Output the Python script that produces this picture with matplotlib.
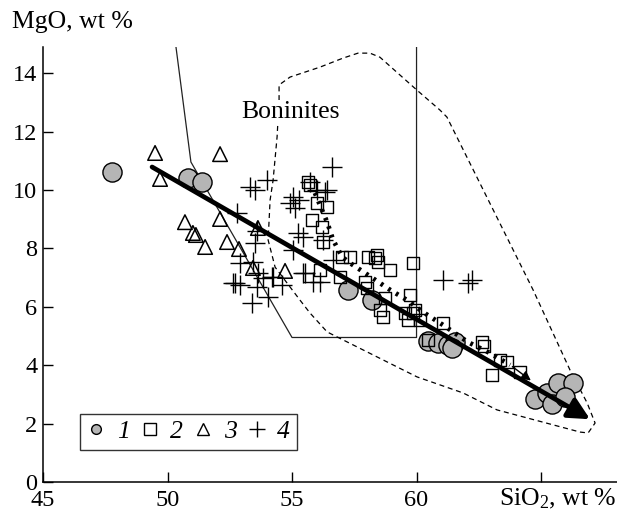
import numpy as np
import matplotlib
matplotlib.use("Agg")
import matplotlib.pyplot as plt
from matplotlib.lines import Line2D

plt.rcParams['font.family'] = ['Liberation Serif', 'DejaVu Serif']
plt.rcParams['mathtext.fontset'] = 'custom'
plt.rcParams['mathtext.rm'] = 'Liberation Serif'
plt.rcParams['mathtext.it'] = 'Liberation Serif:italic'

# --- data (SiO2, MgO) ---
# 1: circles
sio2_1 = [47.77, 50.82, 51.39, 57.25, 58.21, 60.46, 60.86, 61.27, 61.55, 61.43,
          64.76, 65.24, 65.68, 66.29, 65.44, 65.96]
mgo_1 = [10.62, 10.41, 10.27, 6.58, 6.23, 4.82, 4.76, 4.69, 4.79, 4.59,
         2.85, 3.05, 3.39, 3.39, 2.66, 2.91]

# 2: squares
sio2_2 = [55.64, 55.72, 56.00, 56.41, 55.80, 56.20, 57.01, 57.33, 58.05, 58.41,
          56.24, 58.33, 58.45, 58.94, 59.86, 56.12, 56.93, 57.93, 58.01, 58.73,
          58.53, 58.65, 59.74, 59.54, 59.66, 59.94, 60.14, 59.86, 61.06, 62.63,
          63.35, 63.63, 60.46, 63.03, 64.16, 62.70]
mgo_2 = [10.27, 10.17, 9.55, 9.42, 8.97, 8.73, 7.71, 7.71, 7.71, 7.77,
         8.22, 7.67, 7.53, 7.26, 7.50, 7.26, 7.02, 6.85, 6.64, 6.30,
         5.89, 5.65, 6.40, 5.79, 5.55, 5.89, 5.55, 5.79, 5.45, 4.79,
         4.18, 4.11, 4.86, 3.66, 3.77, 4.65]

# 3: triangles
sio2_3 = [49.50, 52.11, 49.70, 50.70, 51.02, 51.14, 51.51, 52.11, 52.39, 52.87,
          53.63, 53.43, 54.72]
mgo_3 = [11.27, 11.23, 10.38, 8.90, 8.53, 8.46, 8.05, 9.01, 8.22, 7.98,
         8.70, 7.33, 7.23]

# 4: crosses
sio2_4 = [54.00, 53.31, 53.51, 52.79, 53.59, 53.51, 52.91, 53.43, 53.63, 54.20,
          52.71, 52.91, 53.59, 54.04, 53.39, 54.60, 52.63, 53.84, 54.24, 55.44,
          55.84, 56.61, 55.72, 56.33, 55.04, 54.92, 55.12, 55.24, 55.44, 55.04,
          56.24, 56.00, 55.52, 56.12, 56.65, 61.06, 62.07, 62.23, 56.41, 55.30]
mgo_4 = [10.34, 10.10, 10.00, 9.21, 8.60, 8.18, 7.50, 7.53, 7.16, 7.02,
         6.82, 6.75, 6.68, 6.34, 6.13, 6.75, 6.82, 6.99, 7.02, 7.16,
         6.85, 10.79, 10.27, 9.93, 9.76, 9.55, 9.38, 8.53, 8.39, 7.95,
         8.29, 10.00, 7.16, 6.85, 7.60, 6.92, 6.82, 6.92, 10.00, 9.65]

# solid field boundary
solid_x = [50.34, 50.94, 55.00, 60.00, 60.00]
solid_y = [14.90, 10.96, 4.95, 4.95, 14.90]

# Boninites field (dashed)
bon_x = [54.48, 54.48, 54.92, 56.12, 57.05, 57.65, 58.13, 58.53, 60.02, 60.94,
         61.22, 63.88, 64.68, 65.48, 66.16, 66.85, 67.17, 66.89, 66.57, 63.23,
         61.87, 60.02, 56.41, 55.72, 55.32, 54.92, 54.32, 54.04, 54.12, 54.24,
         54.40, 54.48]
bon_y = [13.08, 13.60, 13.87, 14.21, 14.52, 14.69, 14.69, 14.55, 13.42, 12.74,
         12.50, 7.95, 6.58, 5.10, 3.84, 2.71, 2.02, 1.68, 1.71, 2.47,
         3.05, 3.60, 5.14, 5.79, 6.23, 6.68, 7.36, 8.29, 9.66, 10.34,
         11.82, 13.08]

# dotted trend
dot_x = [55.92, 56.12, 56.41, 56.65, 57.01, 57.33, 58.05, 58.94, 59.62, 60.26,
         61.06, 62.07, 62.87, 63.76]
dot_y = [9.90, 9.49, 8.90, 8.29, 7.71, 7.50, 7.09, 6.58, 6.23, 5.82,
         5.38, 4.79, 4.45, 4.01]
dot_end = (64.68, 3.42)

# main trend arrow
arrow_start = (49.38, 10.79)
arrow_end = (66.97, 2.15)

fig = plt.figure(figsize=(6.17, 5.12), dpi=100)
ax = fig.add_axes([43 / 617, 30 / 512, 574 / 617, 435 / 512])
ax.set_xlim(45, 68.05)
ax.set_ylim(0, 14.9)

ax.plot(solid_x, solid_y, color='#222222', lw=0.9, zorder=2)
ax.plot(bon_x, bon_y, color='black', lw=0.9, ls=(0, (4, 3)), zorder=2)

ax.scatter(sio2_1, mgo_1, s=190, marker='o', facecolor='#b5b5b5',
           edgecolor='black', linewidths=1.0, zorder=3)
ax.scatter(sio2_2, mgo_2, s=80, marker='s', facecolor='none',
           edgecolor='black', linewidths=1.0, zorder=4)
ax.scatter(sio2_3, mgo_3, s=110, marker='^', facecolor='none',
           edgecolor='black', linewidths=1.1, zorder=4)
ax.scatter(sio2_4, mgo_4, s=190, marker='+', color='black',
           linewidths=1.0, zorder=4)

ax.plot(dot_x, dot_y, color='black', lw=3.4, ls=(0, (0.6, 1.3)), zorder=5)
ax.annotate('', xy=dot_end, xytext=(dot_x[-1], dot_y[-1]),
            arrowprops=dict(arrowstyle='-|>', lw=1.0, color='black',
                            mutation_scale=14), zorder=5)
ax.annotate('', xy=arrow_end, xytext=arrow_start,
            arrowprops=dict(arrowstyle='-|>', lw=3.4, color='black',
                            mutation_scale=32, shrinkA=0, shrinkB=0), zorder=6)

ax.text(54.96, 12.67, 'Boninites', fontsize=18.5, ha='center', va='center',
        bbox=dict(facecolor='white', edgecolor='none', pad=1), zorder=7)

for s in ['top', 'right']:
    ax.spines[s].set_visible(False)
for s in ['left', 'bottom']:
    ax.spines[s].set_linewidth(1.1)

ax.set_xticks([45, 50, 55, 60, 65])
ax.set_xticklabels(['45', '50', '55', '60', ''])
ax.set_yticks([0, 2, 4, 6, 8, 10, 12, 14])
ax.tick_params(direction='in', length=7, width=1.0, labelsize=17.5)
ax.tick_params(axis='x', pad=6)
ax.tick_params(axis='y', pad=4)

fig.text(12 / 617, 1 - 22 / 512, 'MgO, wt %', fontsize=18.5, ha='left', va='center')
fig.text(1.0, 1 - 499 / 512, r'SiO$_\mathrm{2}$, wt %', fontsize=18.5,
         ha='right', va='center')

handles = [
    Line2D([], [], ls='none', marker='o', ms=7, mfc='#b5b5b5', mec='black'),
    Line2D([], [], ls='none', marker='s', ms=8, mfc='none', mec='black'),
    Line2D([], [], ls='none', marker='^', ms=9, mfc='none', mec='black'),
    Line2D([], [], ls='none', marker='+', ms=11, mec='black'),
]
leg = ax.legend(handles, ['1', '2', '3', '4'], ncol=4, loc='lower left',
                bbox_to_anchor=(0.064, 0.074, 0.378, 0.094), mode='expand',
                frameon=True, fancybox=False, edgecolor='black',
                handlelength=0.8, handletextpad=0.4, columnspacing=0.8,
                borderpad=0.25, borderaxespad=0,
                prop=dict(family='Liberation Serif', style='italic', size=18.5))
leg.get_frame().set_linewidth(1.0)

fig.savefig('out.png', dpi=100)
